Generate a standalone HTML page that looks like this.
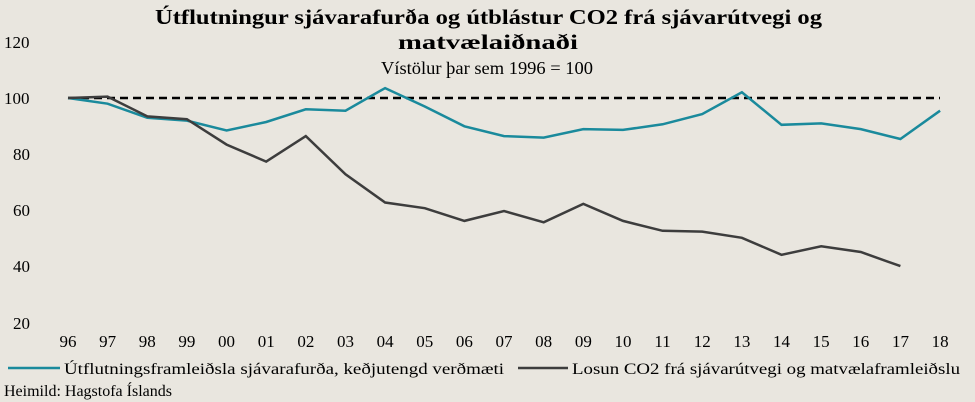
<!DOCTYPE html>
<html><head><meta charset="utf-8"><style>
body{margin:0;background:#e9e6df;}
svg{display:block;font-family:"Liberation Serif",serif;}
</style></head><body>
<svg width="975" height="402" viewBox="0 0 975 402">
<rect width="975" height="402" fill="#e9e6df"/>
<text x="155" y="24" font-size="21" font-weight="bold" textLength="667" lengthAdjust="spacingAndGlyphs">Útflutningur sjávarafurða og útblástur CO2 frá sjávarútvegi og</text>
<text x="398" y="49" font-size="21" font-weight="bold" textLength="180" lengthAdjust="spacingAndGlyphs">matvælaiðnaði</text>
<text x="381" y="74" font-size="18" textLength="212" lengthAdjust="spacingAndGlyphs">Vístölur þar sem 1996 = 100</text>
<g font-size="17">
<text x="4" y="48">120</text><text x="4" y="104">100</text><text x="13" y="160">80</text><text x="13" y="216">60</text><text x="13" y="272">40</text><text x="13" y="329">20</text>
</g>
<g font-size="17" text-anchor="middle" id="xl"></g>
<line x1="68" y1="98" x2="940" y2="98" stroke="#000" stroke-width="2.5" stroke-dasharray="8,5"/>
<polyline id="t" fill="none" stroke="#1a8a9c" stroke-width="2.5"/>
<polyline id="d" fill="none" stroke="#3d3d3d" stroke-width="2.5"/>
<line x1="8" y1="368" x2="60" y2="368" stroke="#1a8a9c" stroke-width="2.5"/>
<text x="64" y="374" font-size="16" textLength="440" lengthAdjust="spacingAndGlyphs">Útflutningsframleiðsla sjávarafurða, keðjutengd verðmæti</text>
<line x1="518" y1="368" x2="568" y2="368" stroke="#3d3d3d" stroke-width="2.5"/>
<text x="572" y="374" font-size="16" textLength="388" lengthAdjust="spacingAndGlyphs">Losun CO2 frá sjávarútvegi og matvælaframleiðslu</text>
<text x="4" y="396" font-size="16">Heimild:  Hagstofa Íslands</text>
</svg>
<script>
var T=[100,98,93,92,88.5,91.5,96,95.5,103.5,97,90,86.5,86,89,88.7,90.7,94.3,102,90.5,91,89,85.5,95.5];
var D=[100,100.5,93.5,92.5,83.5,77.5,86.5,73,63,61,56.5,60,56,62.5,56.5,53,52.7,50.5,44.5,47.5,45.5,40.5];
function p(a){return a.map(function(v,i){return (68+i*39.64).toFixed(1)+","+(98+(100-v)*2.825).toFixed(1)}).join(" ")}
document.getElementById("t").setAttribute("points",p(T));
document.getElementById("d").setAttribute("points",p(D));
var g=document.getElementById("xl"),s="";
var L=["96","97","98","99","00","01","02","03","04","05","06","07","08","09","10","11","12","13","14","15","16","17","18"];
L.forEach(function(l,i){s+='<text x="'+(68+i*39.64)+'" y="347">'+l+'</text>'});
g.innerHTML=s;
</script>
</body></html>
